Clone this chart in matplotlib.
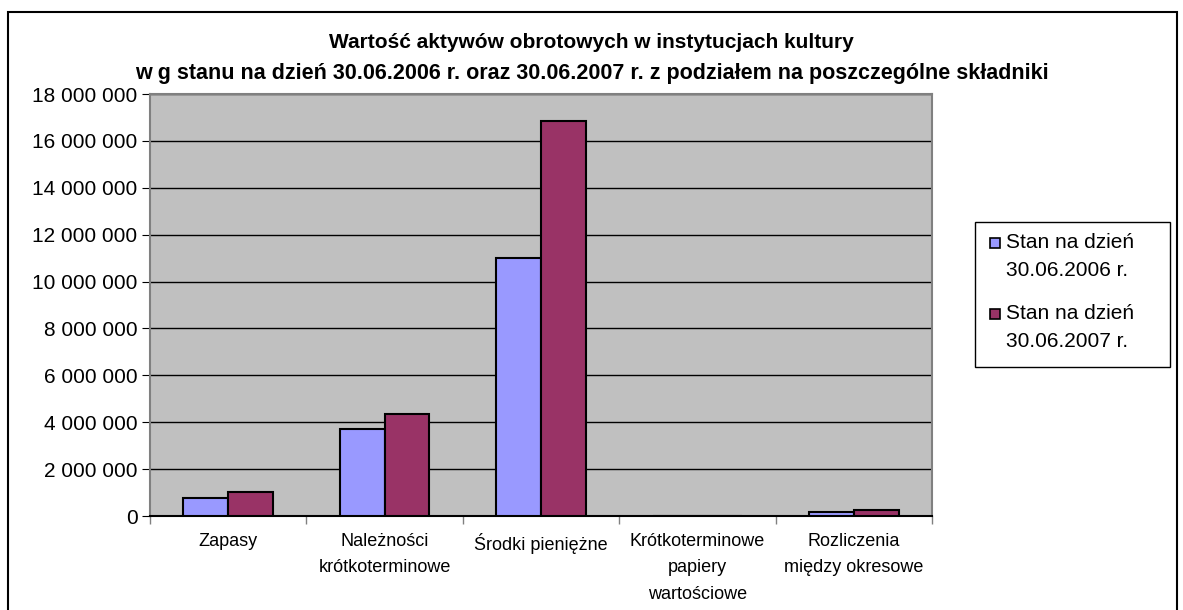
import matplotlib.pyplot as plt
import numpy as np
from matplotlib.patches import Rectangle
from matplotlib.ticker import FuncFormatter

plt.rcParams['font.family'] = ['Liberation Sans', 'DejaVu Sans']

# dane
kategorie = ['Zapasy', 'Należności\nkrótkoterminowe', 'Środki pieniężne',
             'Krótkoterminowe\npapiery\nwartościowe', 'Rozliczenia\nmiędzy okresowe']
stan_2006 = [780000, 3730000, 11000000, 0, 160000]
stan_2007 = [1010000, 4330000, 16850000, 0, 240000]
serie = ['Stan na dzień\n30.06.2006 r.', 'Stan na dzień\n30.06.2007 r.']
kolory = ['#9999FF', '#993366']

W, H = 1183, 610
fig = plt.figure(figsize=(W/100, H/100), dpi=100)
ax = fig.add_axes([150/W, 1-516/H, (932-150)/W, (516-94)/H])
ax.set_facecolor('#C0C0C0')

x = np.arange(len(kategorie))
w = 0.286
ax.bar(x - w/2, stan_2006, w, color=kolory[0], edgecolor='black', linewidth=1.5, label=serie[0], zorder=3)
ax.bar(x + w/2, stan_2007, w, color=kolory[1], edgecolor='black', linewidth=1.5, label=serie[1], zorder=3)

ax.set_xlim(-0.5, len(kategorie) - 0.5)
ax.set_ylim(0, 18000000)
ax.set_yticks(np.arange(0, 18000001, 2000000))
ax.yaxis.set_major_formatter(FuncFormatter(lambda v, p: f'{int(v):,}'.replace(',', ' ')))
ax.yaxis.grid(True, color='black', linewidth=1, zorder=1)
ax.set_axisbelow(True)

ax.set_xticks(x)
ax.set_xticklabels(kategorie, fontsize=13, linespacing=1.75, va='top')
ax.tick_params(axis='x', length=0, pad=12)
ax.set_xticks(np.arange(-0.5, len(kategorie)), minor=True)
ax.tick_params(axis='x', which='minor', length=6, color='#808080', width=1)
ax.tick_params(axis='y', labelsize=15, length=6, color='black', pad=3)

for s in ['top', 'right', 'left']:
    ax.spines[s].set_color('#808080')
    ax.spines[s].set_linewidth(1.5)
ax.spines['bottom'].set_color('black')
ax.spines['bottom'].set_linewidth(1.5)

fig.text(0.5, 1-43/H, 'Wartość aktywów obrotowych w instytucjach kultury',
         ha='center', va='center', fontsize=15, fontweight='bold')
fig.text(0.5, 1-73/H, 'w g stanu na dzień 30.06.2006 r. oraz 30.06.2007 r. z podziałem na poszczególne składniki',
         ha='center', va='center', fontsize=15.5, fontweight='bold')

# legenda (rysowana recznie, marker przy pierwszej linii opisu)
fig.add_artist(Rectangle((975/W, 1-367/H), 195/W, 145/H, transform=fig.transFigure,
                         facecolor='white', edgecolor='black', linewidth=1))
for i, (lab, kol) in enumerate(zip(serie, kolory)):
    yy = 243 + i*71
    fig.add_artist(Rectangle((990/W, 1-(yy+5)/H), 10/W, 10/H, transform=fig.transFigure,
                             facecolor=kol, edgecolor='black', linewidth=1.2))
    fig.text(1006/W, 1-(yy+13.5)/H, lab, ha='left', va='center', fontsize=15, linespacing=1.6)

fig.add_artist(Rectangle((8/W, -0.05), (1177-8)/W, 1-12/H+0.05,
                         transform=fig.transFigure, fill=False, edgecolor='black', linewidth=1.5))

fig.savefig('out.png', dpi=100)
